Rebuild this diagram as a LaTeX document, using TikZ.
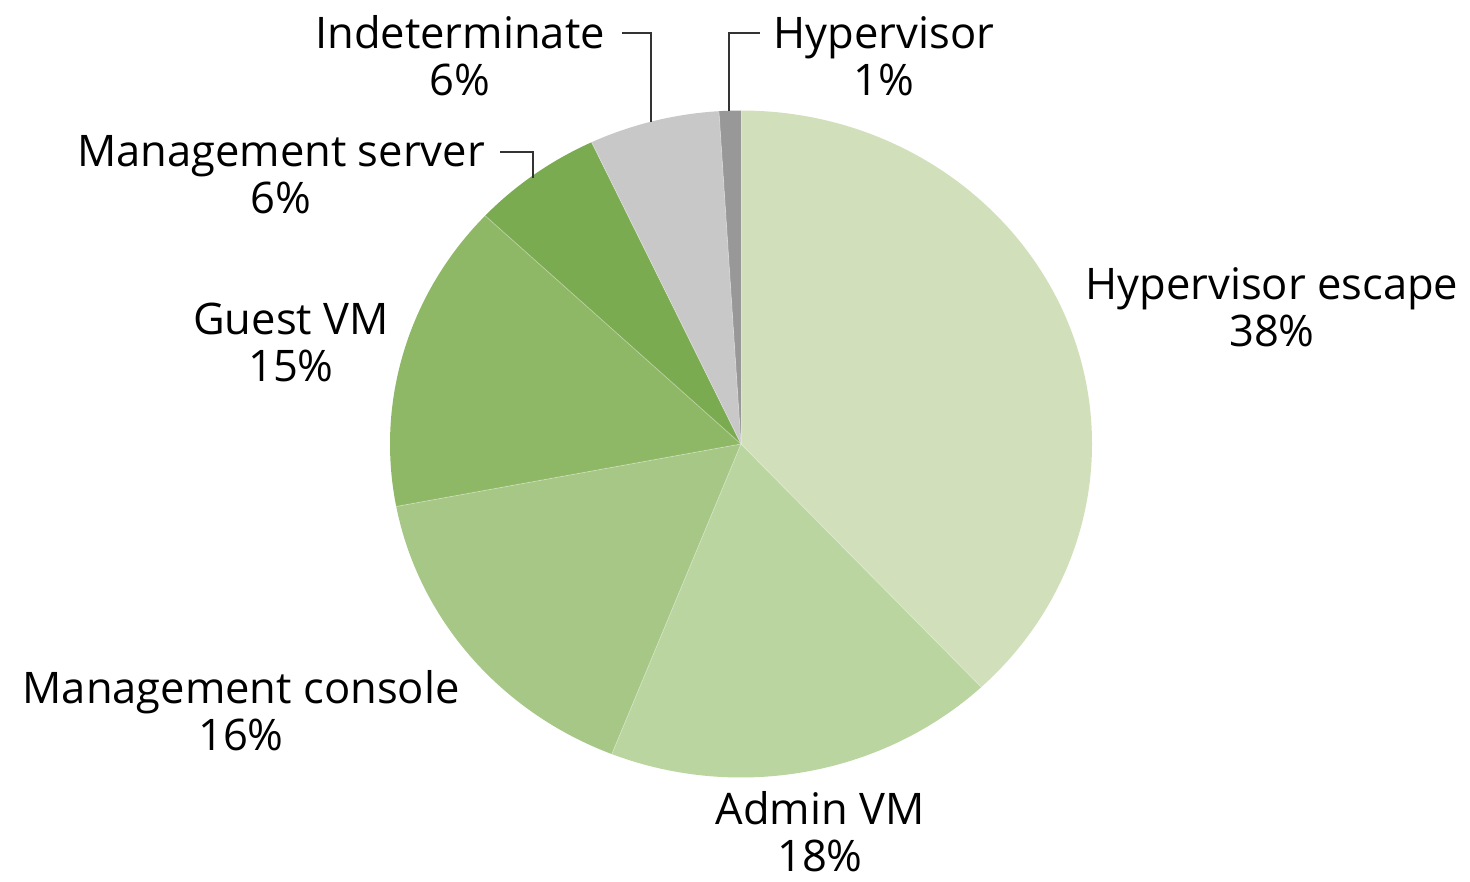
\documentclass[tikz,border=0pt]{standalone}
\usepackage{fontspec}
\setmainfont{Open Sans}
\begin{document}
\begin{tikzpicture}[x=1pt,y=-1pt,
  lbl/.style={align=center,inner sep=0pt,anchor=base,text=black,
    font=\fontsize{43.5}{47}\selectfont},
  leader/.style={draw=black!80,line width=2.8pt},
  seam/.style={draw=white,draw opacity=0.35,line width=0.8pt}]
\useasboundingbox (0,0) rectangle (1470,881);
\definecolor{cEsc}{HTML}{D1E0BB}
\definecolor{cAdm}{HTML}{BAD5A0}
\definecolor{cCon}{HTML}{A7C787}
\definecolor{cGst}{HTML}{8FB866}
\definecolor{cSrv}{HTML}{7BAB50}
\definecolor{cInd}{HTML}{C8C8C8}
\definecolor{cHyp}{HTML}{989898}
\coordinate (c) at (741,444);
% slices, clockwise from the top
\foreach \a/\b/\col in {-90/46.8/cEsc, 46.8/111.6/cAdm, 111.6/169.2/cCon,
    169.2/223.2/cGst, 223.2/244.8/cSrv, 244.8/266.4/cInd, 266.4/270/cHyp}{
  \fill[\col] (c) -- ++(\a:351 and 333.5)
    arc[start angle=\a, end angle=\b, x radius=351, y radius=333.5] -- cycle;
}
\foreach \a in {-90,46.8,111.6,169.2,223.2,244.8,266.4}{
  \draw[seam] (c) -- ++(\a:351 and 333.5);
}
% labels (placed by the baseline of their last line)
\node[lbl] (esc) at (1272,346) {Hypervisor escape\\38\%};
\node[lbl] (adm) at (820,871) {Admin VM\\18\%};
\node[lbl] (con) at (241,750) {Management console\\16\%};
\node[lbl] (gst) at (291,381) {Guest VM\\15\%};
\node[lbl] (srv) at (281,213) {Management server\\6\%};
\node[lbl] (ind) at (460,95) {Indeterminate\\6\%};
\node[lbl] (hyp) at (884,95) {Hypervisor\\1\%};
% leader lines
\coordinate (srvEnd) at (533,178);
\coordinate (indEnd) at (651,122);
\coordinate (hypEnd) at (729,111);
\draw[leader] ([xshift=15pt]srv.east |- 0,152) -- (srvEnd |- 0,152) -- (srvEnd);
\draw[leader] ([xshift=17pt]ind.east |- 0,33) -- (indEnd |- 0,33) -- (indEnd);
\draw[leader] ([xshift=-14pt]hyp.west |- 0,33) -- (hypEnd |- 0,33) -- (hypEnd);
\end{tikzpicture}
\end{document}
